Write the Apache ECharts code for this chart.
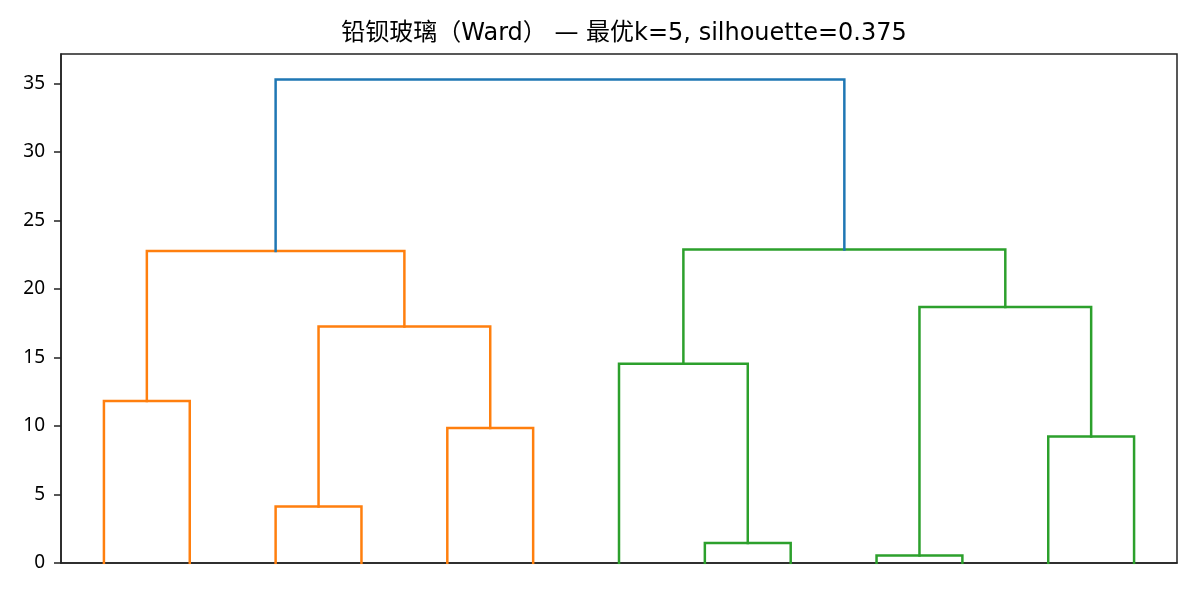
<!DOCTYPE html>
<html>
<head>
<meta charset="utf-8">
<script src="https://cdn.jsdelivr.net/npm/echarts@6/dist/echarts.min.js"></script>
<style>html,body{margin:0;padding:0;background:#fff;}#c{width:1200px;height:600px;}</style>
</head>
<body>
<div id="c"></div>
<script>
// Dendrogram data: 13 leaves (ids 0..12 in display order), merged clusters get ids 13..24
const leafCount = 13;
const linkLeft   = [0, 2, 4, 14, 13, 7, 6, 9, 11, 20, 19, 17];
const linkRight  = [1, 3, 5, 15, 16, 8, 18, 10, 12, 21, 22, 23];
const linkHeight = [11.82, 4.12, 9.85, 17.26, 22.77, 1.46, 14.55, 0.54, 9.23, 18.69, 22.88, 35.28];
const linkGroup  = ['A','A','A','A','A','B','B','B','B','B','B','top'];
const groupColor = { A: '#ff7f0e', B: '#2ca02c', top: '#1f77b4' };
const yTicks = [0, 5, 10, 15, 20, 25, 30, 35];
const titleText = '铅钡玻璃（Ward） — 最优k=5, silhouette=0.375';

// positions (scipy style: leaf i at 5 + 10*i)
const nodeX = [], nodeY = [];
for (let i = 0; i < leafCount; i++) { nodeX[i] = 5 + 10 * i; nodeY[i] = 0; }
const series = [];
for (let k = 0; k < linkLeft.length; k++) {
  const a = linkLeft[k], b = linkRight[k], h = linkHeight[k];
  const id = leafCount + k;
  nodeX[id] = (nodeX[a] + nodeX[b]) / 2;
  nodeY[id] = h;
  series.push({
    type: 'line',
    data: [[nodeX[a], nodeY[a]], [nodeX[a], h], [nodeX[b], h], [nodeX[b], nodeY[b]]],
    symbol: 'none',
    lineStyle: { color: groupColor[linkGroup[k]], width: 2.5, cap: 'square', join: 'miter' },
    itemStyle: { color: groupColor[linkGroup[k]] },
    silent: true,
    animation: false,
    z: 3
  });
}
const yMax = Math.max(...linkHeight) * 1.053;

const chart = echarts.init(document.getElementById('c'), null, { renderer: 'canvas' });
chart.setOption({
  animation: false,
  backgroundColor: '#fff',
  title: {
    text: titleText,
    left: 619,
    top: 17,
    textAlign: 'center',
    textStyle: { fontFamily: 'DejaVu Sans, Noto Sans CJK SC', fontSize: 24, fontWeight: 'normal', color: '#000' }
  },
  grid: { left: 61, right: 23, top: 54, bottom: 37, show: true, borderColor: '#222', borderWidth: 1.5, backgroundColor: 'transparent' },
  xAxis: {
    type: 'value', min: 0, max: leafCount * 10,
    axisLine: { show: true, onZero: false, lineStyle: { color: '#222', width: 1.5 } },
    axisTick: { show: false }, axisLabel: { show: false }, splitLine: { show: false }
  },
  yAxis: {
    type: 'value', min: 0, max: yMax,
    axisLine: { show: true, lineStyle: { color: '#222', width: 1.5 } },
    axisTick: { show: true, length: 7, inside: false, customValues: yTicks, lineStyle: { color: '#222', width: 1.5 } },
    axisLabel: { show: true, customValues: yTicks, margin: 16, color: '#000', fontSize: 19, fontFamily: 'Noto Sans, Noto Sans CJK SC' },
    splitLine: { show: false }
  },
  series: series
});
</script>
</body>
</html>
